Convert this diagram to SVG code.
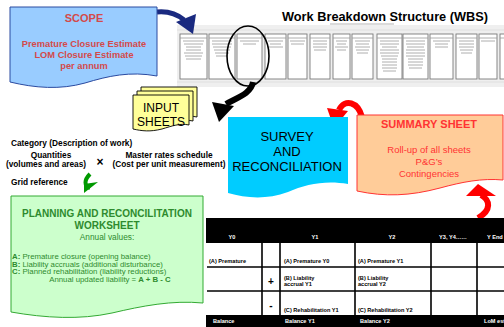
<svg xmlns="http://www.w3.org/2000/svg" width="504" height="327" viewBox="0 0 504 327">
<style>
text{font-family:"Liberation Sans",Arial,sans-serif}
.wb{fill:#fff;stroke:#7a7a7a;stroke-width:0.9}
.wl{stroke:#9a9a9a;stroke-width:0.8}
.sm{font-size:8.3px;font-weight:bold;fill:#000}
.tb{font-size:5.6px;font-weight:bold;fill:#000}
.th{font-size:5.6px;font-weight:bold;fill:#fff}
.gl{stroke:#000;stroke-width:1.6}
.pg{fill:#ffff99;stroke:#000;stroke-width:0.9}
.pw{font-size:7.8px;fill:#2e8b2e}
</style>
<rect width="504" height="327" fill="#fff"/>

<g id="wbs">
<rect x="177" y="25" width="327" height="62" fill="#efefef"/>
<line x1="177" y1="30" x2="504" y2="30" stroke="#dcdcdc" stroke-width="0.8"/>
<line x1="330" y1="24" x2="394" y2="24" stroke="#b5b5b5" stroke-width="1"/>
<line x1="177" y1="82" x2="504" y2="82" stroke="#dcdcdc" stroke-width="0.8"/>
<g>
<rect class="wb" x="180" y="34" width="27" height="45"/><line class="wl" x1="180" y1="38" x2="207" y2="38"/>
<path class="wl" d="M183,41h21M184,44h19M186,47h15M186,50h15M184,53h19M185,56h17M186,59h15"/>
<rect class="wb" x="209" y="34" width="26" height="45"/><line class="wl" x1="209" y1="38" x2="235" y2="38"/>
<path class="wl" d="M212,41h20M212,44h20M213,47h18M214,50h16M215,53h14M216,56h12"/>
<rect class="wb" x="237" y="34" width="25" height="45"/><line class="wl" x1="237" y1="38" x2="262" y2="38"/>
<path class="wl" d="M240,41h19M243,44h13"/>
<rect class="wb" x="265" y="34" width="21" height="45"/><line class="wl" x1="265" y1="38" x2="286" y2="38"/>
<path class="wl" d="M268,41h15M270,44h11M268,47h15"/>
<rect class="wb" x="288" y="34" width="19" height="45"/><line class="wl" x1="288" y1="38" x2="307" y2="38"/>
<path class="wl" d="M290,41h15M291,44h13"/>
<rect class="wb" x="310" y="34" width="20" height="45"/><line class="wl" x1="310" y1="38" x2="330" y2="38"/>
<path class="wl" d="M313,41h14M313,44h14M313,47h14M314,50h12"/>
<rect class="wb" x="333" y="34" width="17" height="45"/><line class="wl" x1="333" y1="38" x2="350" y2="38"/>
<path class="wl" d="M336,41h11M337,44h9M335,47h13M337,50h9"/>
<rect class="wb" x="352" y="34" width="21" height="45"/><line class="wl" x1="352" y1="38" x2="373" y2="38"/>
<path class="wl" d="M355,41h15M356,44h13M355,47h15M356,50h13M357,53h11"/>
<rect class="wb" x="377" y="34" width="25" height="45"/><line class="wl" x1="377" y1="38" x2="402" y2="38"/>
<path class="wl" d="M380,41h19M380,44h19M382,47h15M380,50h19M380,53h19M381,56h17M382,59h15M382,62h15M382,65h15M382,68h15M383,71h13"/>
<rect class="wb" x="403" y="34" width="25" height="45"/><line class="wl" x1="403" y1="38" x2="428" y2="38"/>
<path class="wl" d="M406,41h19M406,44h19M407,47h17M406,50h19M406,53h19M406,56h19M408,59h15M408,62h15M408,65h15M409,68h13"/>
<rect class="wb" x="430" y="34" width="23" height="45"/><line class="wl" x1="430" y1="38" x2="453" y2="38"/>
<path class="wl" d="M433,41h17M435,44h13M435,47h13"/>
<rect class="wb" x="456" y="34" width="21" height="45"/><line class="wl" x1="456" y1="38" x2="477" y2="38"/>
<path class="wl" d="M459,41h15M459,44h15M459,47h15M460,50h13M461,53h11"/>
<rect class="wb" x="479" y="34" width="18" height="45"/><line class="wl" x1="479" y1="38" x2="497" y2="38"/>
<path class="wl" d="M481,41h14"/>
<rect class="wb" x="500" y="34" width="10" height="45"/><line class="wl" x1="500" y1="38" x2="504" y2="38"/>
</g>
<text x="282" y="21" font-size="12.5" font-weight="bold" fill="#000" textLength="206" lengthAdjust="spacingAndGlyphs">Work Breakdown Structure (WBS)</text>
<ellipse cx="248" cy="56" rx="21" ry="30" fill="none" stroke="#000" stroke-width="1.6"/>
</g>

<g id="connectors">
<path d="M157,12 C168,11 177,14 184,20" fill="none" stroke="#1a2a80" stroke-width="5"/>
<polygon points="176,22 196,14 193,34" fill="#1a2a80"/>
<path d="M253,82 C251,94 236,98 226,104" fill="none" stroke="#000" stroke-width="6"/>
<polygon points="212,102 234,106 219,122" fill="#000"/>
<path d="M362,117 C358,102 345,98 339,110" fill="none" stroke="#ff0000" stroke-width="6"/>
<polygon points="327,108 348,111 334,128" fill="#ff0000"/>
<path d="M478,218 C492,210 490,200 481,195" fill="none" stroke="#ff0000" stroke-width="6"/>
<polygon points="466,196 496,196 478,184" fill="#ff0000"/>
<path d="M90,174 C84,180 84,186 90,188" fill="none" stroke="#009900" stroke-width="4"/>
<polygon points="84,184 98,182 84,193" fill="#009900"/>
</g>

<g id="scope">
<path d="M10,7 L157,7 L157,76 C130,71 108,76 85,83 C60,90 35,88 10,82 Z" fill="#99ccff" stroke="#2a4aa0" stroke-width="1"/>
<text x="84" y="22" font-size="11" font-weight="bold" fill="#d44a4a" text-anchor="middle">SCOPE</text>
<text x="84" y="47" font-size="9.3" font-weight="bold" fill="#d44a4a" text-anchor="middle">Premature Closure Estimate</text>
<text x="84" y="58" font-size="9.3" font-weight="bold" fill="#d44a4a" text-anchor="middle">LOM Closure Estimate</text>
<text x="84" y="69" font-size="9.3" font-weight="bold" fill="#d44a4a" text-anchor="middle">per annum</text>
</g>

<g id="input-sheets">
<path class="pg" d="M141,87 L197,87 L197,117 C188,115 180,118 170,121 C158,124 150,123 141,121 Z"/>
<path class="pg" d="M137,91 L193,91 L193,121 C184,119 176,122 166,125 C154,128 146,127 137,125 Z"/>
<path class="pg" d="M133,95 L189,95 L189,125 C180,123 172,126 162,129 C150,132 142,131 133,129 Z"/>
<text x="161" y="112" font-size="12" fill="#000" text-anchor="middle">INPUT</text>
<text x="161" y="126" font-size="12" fill="#000" text-anchor="middle">SHEETS</text>
</g>

<g id="inputs-text">
<text x="11" y="146" class="sm">Category (Description of work)</text>
<text x="51" y="158" class="sm" text-anchor="middle">Quantities</text>
<text x="46" y="167" class="sm" text-anchor="middle">(volumes and areas)</text>
<text x="100" y="166" font-size="12" font-weight="bold" fill="#000" text-anchor="middle">×</text>
<text x="169" y="158" class="sm" text-anchor="middle">Master rates schedule</text>
<text x="169" y="167" class="sm" text-anchor="middle">(Cost per unit measurement)</text>
<text x="11" y="185" class="sm">Grid reference</text>
</g>

<g id="planning">
<path d="M11,196 L203,196 L203,303 C172,300 142,306 112,313 C80,320 45,318 11,312 Z" fill="#ccffcc" stroke="#33aa33" stroke-width="1"/>
<text x="107" y="217" font-size="10" font-weight="bold" fill="#2e8b2e" text-anchor="middle">PLANNING AND RECONCILITATION</text>
<text x="107" y="229" font-size="10" font-weight="bold" fill="#2e8b2e" text-anchor="middle">WORKSHEET</text>
<text x="107" y="240" font-size="8.3" fill="#2e8b2e" text-anchor="middle">Annual values:</text>
<text x="12" y="259" class="pw"><tspan font-weight="bold">A:</tspan> Premature closure (opening balance)</text>
<text x="12" y="266.5" class="pw"><tspan font-weight="bold">B:</tspan> Liability accruals (additional disturbance)</text>
<text x="12" y="274" class="pw"><tspan font-weight="bold">C:</tspan> Planned rehabilitation (liability reductions)</text>
<text x="110" y="281.5" class="pw" text-anchor="middle">Annual updated liability = <tspan font-weight="bold">A + B - C</tspan></text>
</g>

<g id="survey">
<path d="M228,117 L348,117 L348,184 C326,180 306,184 288,192 C266,200 246,198 228,193 Z" fill="#00ccff"/>
<text x="287" y="141" font-size="13" fill="#000" text-anchor="middle">SURVEY</text>
<text x="287" y="156" font-size="13" fill="#000" text-anchor="middle">AND</text>
<text x="287" y="171" font-size="13" fill="#000" text-anchor="middle">RECONCILIATION</text>
</g>

<g id="summary">
<path d="M357,115 L503,115 L503,180 C482,178 462,182 440,188 C410,196 385,197 357,191 Z" fill="#ffcc99" stroke="#ff3333" stroke-width="1"/>
<text x="429" y="128" font-size="11" font-weight="bold" fill="#ff3333" text-anchor="middle">SUMMARY SHEET</text>
<text x="429" y="153" font-size="9.5" fill="#ff3333" text-anchor="middle">Roll-up of all sheets</text>
<text x="429" y="165" font-size="9.5" fill="#ff3333" text-anchor="middle">P&amp;G’s</text>
<text x="429" y="177" font-size="9.5" fill="#ff3333" text-anchor="middle">Contingencies</text>
</g>

<g id="table">
<rect x="206" y="218" width="298" height="25" fill="#000"/>
<rect x="206" y="243" width="298" height="72" fill="#fff"/>
<rect x="206" y="315" width="298" height="12" fill="#000"/>
<line class="gl" x1="207" y1="267" x2="504" y2="267"/>
<line class="gl" x1="207" y1="291" x2="504" y2="291"/>
<line class="gl" x1="262" y1="243" x2="262" y2="315"/>
<line class="gl" x1="280" y1="243" x2="280" y2="315"/>
<line class="gl" x1="355" y1="243" x2="355" y2="315"/>
<line class="gl" x1="431" y1="243" x2="431" y2="315"/>
<line class="gl" x1="477" y1="243" x2="477" y2="315"/>
<text class="th" x="232" y="239" text-anchor="middle">Y0</text>
<text class="th" x="315" y="239" text-anchor="middle">Y1</text>
<text class="th" x="392" y="239" text-anchor="middle">Y2</text>
<text class="th" x="453" y="239" text-anchor="middle">Y3, Y4……</text>
<text class="th" x="487" y="239">Y End</text>
<text class="tb" x="209" y="263">(A) Premature</text>
<text class="tb" x="284" y="263">(A) Premature Y0</text>
<text class="tb" x="358" y="263">(A) Premature Y1</text>
<text x="271" y="285" font-size="10" font-weight="bold" fill="#000" text-anchor="middle">+</text>
<text class="tb" x="284" y="280">(B) Liability</text>
<text class="tb" x="284" y="286">accrual Y1</text>
<text class="tb" x="358" y="280">(B) Liability</text>
<text class="tb" x="358" y="286">accrual Y2</text>
<text x="271" y="309" font-size="10" font-weight="bold" fill="#000" text-anchor="middle">-</text>
<text class="tb" x="284" y="312">(C) Rehabilitation Y1</text>
<text class="tb" x="358" y="312">(C) Rehabilitation Y2</text>
<text class="th" x="213" y="323">Balance</text>
<text class="th" x="285" y="323">Balance Y1</text>
<text class="th" x="360" y="323">Balance Y2</text>
<text class="th" x="484" y="323">LoM est</text>
</g>
</svg>
